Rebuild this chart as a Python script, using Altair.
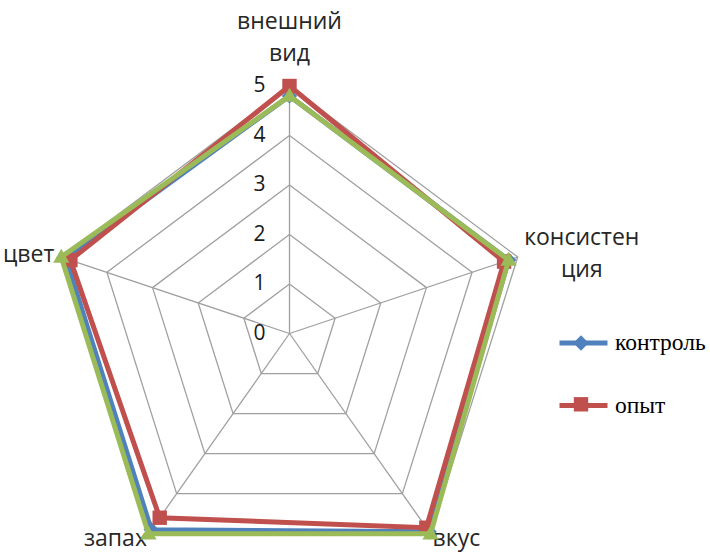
import altair as alt
import numpy as np
import pandas as pd

# ---------------- data ----------------
categories = ["внешний вид", "консистенция", "вкус", "запах", "цвет"]
category_lines = [["внешний", "вид"], ["консистен", "ция"], ["вкус"], ["запах"], ["цвет"]]
series = ["контроль", "опыт", "опыт 2"]
kontrol = [4.8, 4.8, 4.95, 4.9, 4.9]
opyt = [5.0, 4.7, 4.85, 4.6, 4.8]
opyt2 = [4.8, 4.8, 5.0, 5.0, 5.0]
tick_values = [0, 1, 2, 3, 4, 5]
legend_values = ["контроль", "опыт"]

# ---------------- style / layout ----------------
colors = ["#4F81BD", "#C0504D", "#9BBB59"]
# marker paths (unit box -1..1, scaled by sqrt(size)/2)
marker_paths = ["M0,-0.32L0.32,0L0,0.32L-0.32,0Z",
                "M-0.3,-0.3L0.3,-0.3L0.3,0.3L-0.3,0.3Z",
                "M0,-0.34L0.34,0.24L-0.34,0.24Z"]
SYM = 2304
W, H = 710, 554
CX, CY = 289.5, 333.5      # pixel centre of the radar
SX, SY = 48.0, 49.5        # pixels per unit, horizontal / vertical
FONT = "Open Sans"
LABEL_SIZE = 23
label_layout = {
    "внешний вид": dict(dx=0, dy=-64, align="center"),
    "консистенция": dict(dx=64, dy=-19, align="center"),
    "вкус": dict(dx=2, dy=5, align="left"),
    "запах": dict(dx=-33, dy=5, align="center"),
    "цвет": dict(dx=-7, dy=-2, align="right"),
}
LEG_X, LEG_Y = 557, 316.5

n = len(categories)
ang = np.arange(n) * 2 * np.pi / n
sinA, cosA = np.sin(ang), np.cos(ang)
rmax = max(tick_values)

xs = alt.Scale(domain=[-CX / SX, (W - CX) / SX], nice=False, zero=False)
ys = alt.Scale(domain=[-(H - CY) / SY, CY / SY], nice=False, zero=False)
X = lambda f: alt.X(f, type="quantitative", scale=xs, axis=None)
Y = lambda f: alt.Y(f, type="quantitative", scale=ys, axis=None)

rows = []
for s, vals in zip(series, [kontrol, opyt, opyt2]):
    for k in range(n + 1):
        i = k % n
        rows.append(dict(series=s, series_m=s, category=categories[i], value=vals[i], order=k,
                         x=vals[i] * sinA[i], y=vals[i] * cosA[i]))
sdf = pd.DataFrame(rows)

grows = []
for r in tick_values[1:]:
    for k in range(n + 1):
        i = k % n
        grows.append(dict(ring=r, order=k, x=r * sinA[i], y=r * cosA[i]))
gdf = pd.DataFrame(grows)

spdf = pd.DataFrame(dict(x=np.zeros(n), y=np.zeros(n), x2=rmax * sinA, y2=rmax * cosA))
tdf = pd.DataFrame(dict(t=tick_values, x=np.zeros(len(tick_values)), label=[str(t) for t in tick_values]))

rings = alt.Chart(gdf).mark_line(color="#a0a0a0", strokeWidth=1.3).encode(
    x=X("x"), y=Y("y"), detail="ring:N", order="order:Q")
spokes = alt.Chart(spdf).mark_rule(color="#a0a0a0", strokeWidth=1.3).encode(
    x=X("x"), y=Y("y"), x2="x2", y2="y2")
ticks = alt.Chart(tdf).mark_text(font=FONT, fontSize=21, align="right", baseline="middle",
                                 dx=-24, color="#1a1a1a").encode(
    x=X("x"), y=Y("t"), text="label:N")

label_layers = []
for i, c in enumerate(categories):
    lay = label_layout[c]
    ldf = pd.DataFrame([dict(category=c, lines=category_lines[i],
                             x=rmax * sinA[i] + lay["dx"] / SX,
                             y=rmax * cosA[i] - lay["dy"] / SY)])
    label_layers.append(
        alt.Chart(ldf).mark_text(font=FONT, fontSize=LABEL_SIZE, align=lay["align"], baseline="middle",
                                 lineHeight=32, color="#262626").encode(
            x=X("x"), y=Y("y"), text="lines"))

common = dict(values=legend_values, orient="none", legendX=LEG_X, title=None, padding=0,
              symbolSize=SYM, symbolOpacity=1, labelFont="Liberation Serif", labelColor="#000000")
legend_line = alt.Legend(symbolType="stroke", symbolStrokeWidth=5, zindex=1, legendY=LEG_Y,
                         labelFontSize=23.5, labelOffset=5, rowPadding=24.5, **common)
legend_marker = alt.Legend(labelExpr="''", labelFontSize=1, symbolStrokeWidth=0, zindex=2,
                           legendY=LEG_Y + 2.5, rowPadding=29.3, **common)

color = alt.Color("series:N", scale=alt.Scale(domain=series, range=colors), legend=legend_line)
# marker scales get one extra unused domain entry so their legend is not merged with the line legend
fill = alt.Fill("series_m:N", scale=alt.Scale(domain=series + ["-"], range=colors + ["#ffffff"]),
                legend=legend_marker)
shape = alt.Shape("series_m:N", scale=alt.Scale(domain=series + ["-"], range=marker_paths + ["circle"]),
                  legend=legend_marker)

series_layers = []
for s in series:
    base = alt.Chart(sdf).transform_filter(alt.datum.series == s)
    series_layers.append(base.mark_line(strokeWidth=5, strokeJoin="miter").encode(
        x=X("x"), y=Y("y"), order="order:Q", color=color))
    series_layers.append(base.transform_filter(alt.datum.order < n).mark_point(
        filled=True, size=SYM, opacity=1, strokeWidth=0).encode(
        x=X("x"), y=Y("y"), fill=fill, shape=shape))

chart = alt.layer(rings, spokes, ticks, *label_layers, *series_layers).properties(
    width=W, height=H, padding=0, autosize=alt.AutoSizeParams(type="none"),
    background="white"
).configure_view(strokeWidth=0)

chart.save("out.html", embed_options={"renderer": "svg", "actions": False})
